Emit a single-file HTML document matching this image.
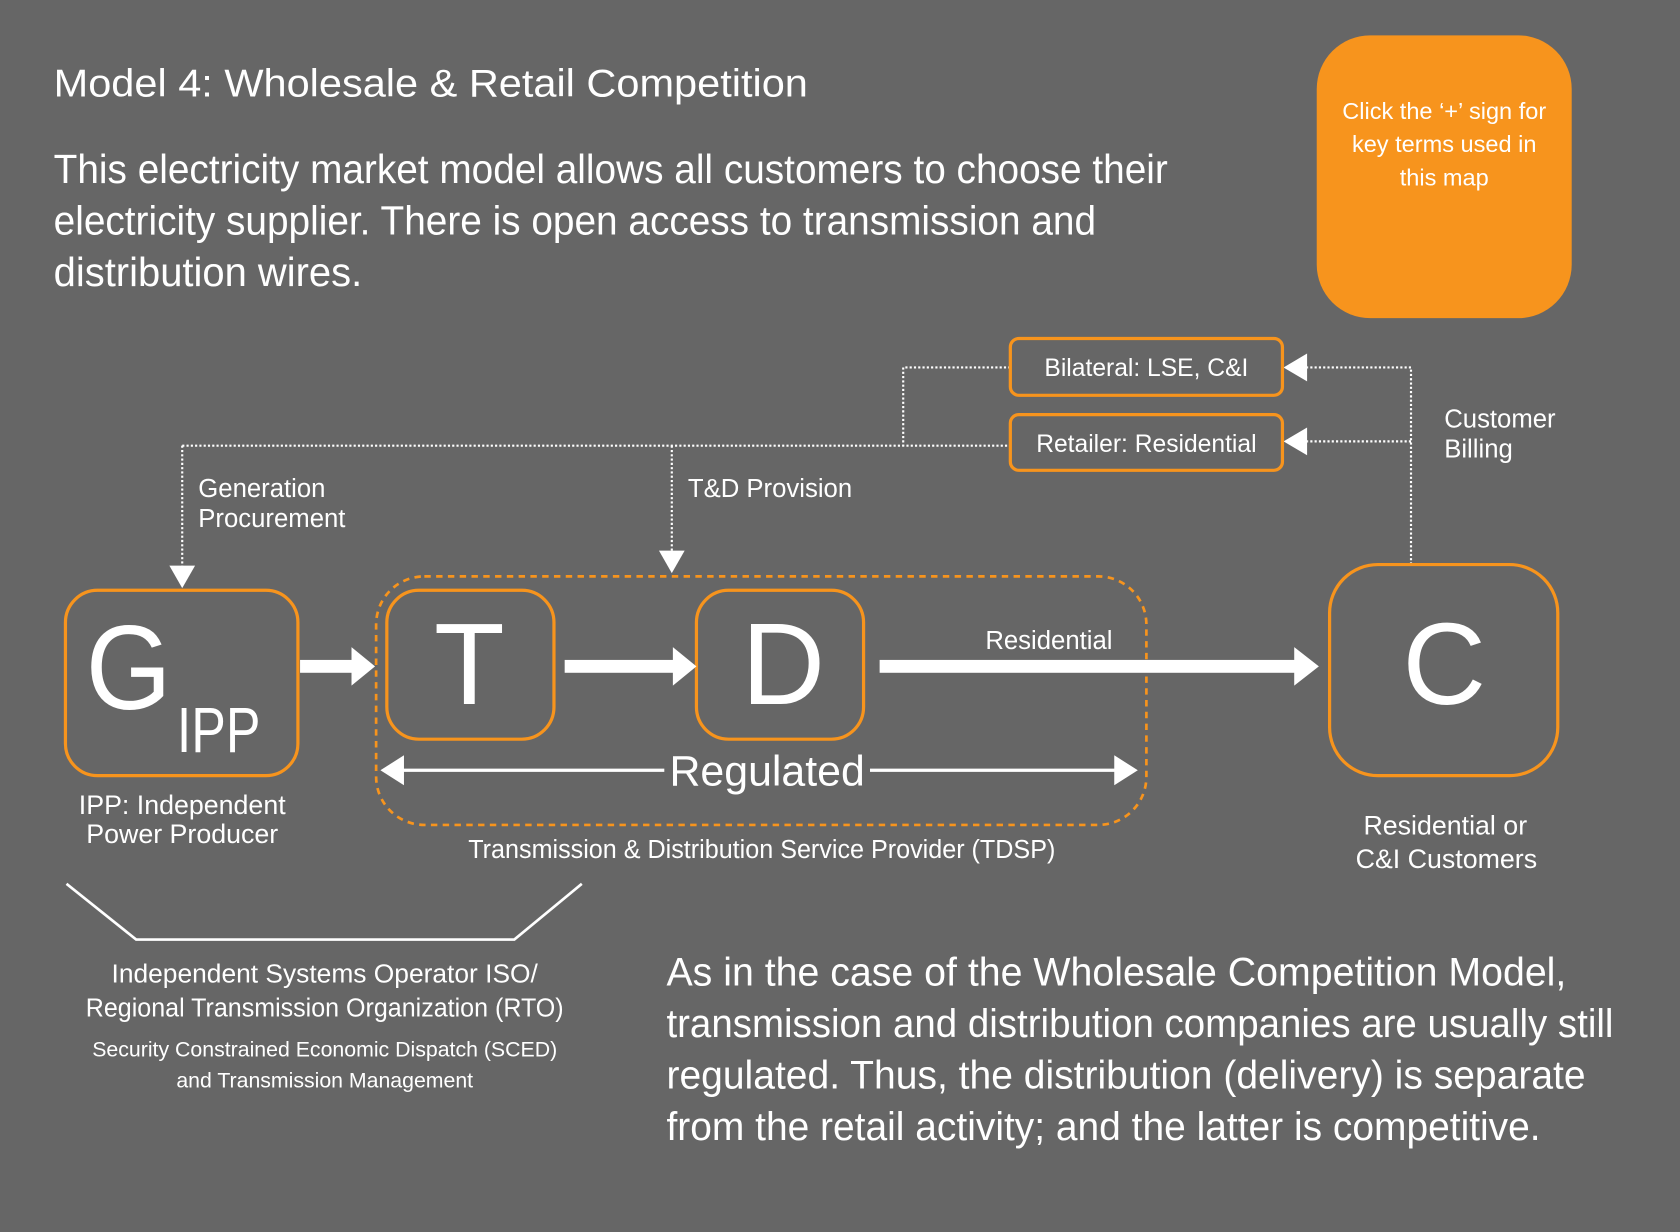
<!DOCTYPE html>
<html><head><meta charset="utf-8">
<style>
html,body{margin:0;padding:0;background:#666666;width:1680px;height:1232px;overflow:hidden}
svg{display:block}
text{font-family:"Liberation Sans",sans-serif;fill:#ffffff}
</style></head>
<body>
<svg width="1680" height="1232" viewBox="0 0 1568 1150" xmlns="http://www.w3.org/2000/svg">
<rect width="1568" height="1150" fill="#666666"/>

<!-- Title & intro -->
<text x="50" y="90" font-size="36" textLength="704" lengthAdjust="spacingAndGlyphs">Model 4: Wholesale &amp; Retail Competition</text>
<g font-size="38" fill="#eee">
<text x="50" y="171" textLength="1040" lengthAdjust="spacingAndGlyphs">This electricity market model allows all customers to choose their</text>
<text x="50" y="219" textLength="973" lengthAdjust="spacingAndGlyphs">electricity supplier.  There is open access to transmission and</text>
<text x="50" y="267" textLength="288" lengthAdjust="spacingAndGlyphs">distribution wires.</text>
</g>

<!-- Orange box -->
<rect x="1229" y="33" width="238" height="264" rx="50" fill="#F7941D"/>
<g font-size="22" text-anchor="middle" fill="#fff">
<text x="1348" y="111">Click the ‘+’ sign for</text>
<text x="1348" y="142">key terms used in</text>
<text x="1348" y="173">this map</text>
</g>

<!-- dotted connectors -->
<g stroke="#fff" stroke-width="2" stroke-dasharray="2,2" fill="none">
<polyline points="943,343 843,343 843,416"/>
<line x1="170" y1="416" x2="943" y2="416"/>
<line x1="170" y1="416" x2="170" y2="530"/>
<line x1="627" y1="416" x2="627" y2="516"/>
<polyline points="1317,527 1317,343 1220,343"/>
<line x1="1317" y1="412" x2="1220" y2="412"/>
</g>
<g fill="#fff">
<path d="M158,528 L182,528 L170,549 z"/>
<path d="M615,514 L639,514 L627,535 z"/>
<path d="M1220,330 L1220,356 L1198,343 z"/>
<path d="M1220,399 L1220,425 L1198,412 z"/>
</g>

<!-- small boxes -->
<rect x="943" y="316" width="254" height="53" rx="8" fill="none" stroke="#F7941D" stroke-width="3"/>
<rect x="943" y="387" width="254" height="52" rx="8" fill="none" stroke="#F7941D" stroke-width="3"/>
<g font-size="23" text-anchor="middle">
<text x="1070" y="351">Bilateral: LSE, C&amp;I</text>
<text x="1070" y="422">Retailer: Residential</text>
</g>

<g font-size="24">
<text x="185" y="464">Generation</text>
<text x="185" y="492">Procurement</text>
<text x="642" y="464">T&amp;D Provision</text>
<text x="1348" y="399">Customer</text>
<text x="1348" y="427">Billing</text>
</g>

<!-- dashed TDSP container -->
<rect x="351" y="538" width="719" height="232" rx="45" fill="none" stroke="#F7941D" stroke-width="2.5" stroke-dasharray="6,5"/>

<!-- node boxes -->
<g fill="none" stroke="#F7941D" stroke-width="3">
<rect x="61" y="551" width="217" height="173" rx="30"/>
<rect x="361" y="551" width="156" height="139" rx="30"/>
<rect x="650" y="551" width="156" height="139" rx="30"/>
<rect x="1241" y="527" width="213" height="197" rx="45"/>
</g>
<text x="80" y="662" font-size="112" textLength="80" lengthAdjust="spacingAndGlyphs">G</text>
<text x="165" y="702" font-size="60" textLength="78" lengthAdjust="spacingAndGlyphs">IPP</text>
<text x="438" y="657" font-size="108" text-anchor="middle">T</text>
<text x="731" y="657" font-size="108" text-anchor="middle">D</text>
<text x="1348" y="657" font-size="108" text-anchor="middle">C</text>

<!-- thick arrows -->
<g fill="#fff">
<rect x="280" y="616" width="50" height="12"/><path d="M328,604 L350,622 L328,640 z"/>
<rect x="527" y="616" width="104" height="12"/><path d="M628,604 L650,622 L628,640 z"/>
<rect x="821" y="616" width="390" height="12"/><path d="M1208,604 L1231,622 L1208,640 z"/>
</g>
<text x="979" y="606" font-size="24" text-anchor="middle">Residential</text>

<!-- Regulated -->
<g stroke="#fff" stroke-width="3">
<line x1="375" y1="719" x2="620" y2="719"/>
<line x1="812" y1="719" x2="1042" y2="719"/>
</g>
<g fill="#fff">
<path d="M377,705 L355,719 L377,733 z"/>
<path d="M1040,705 L1062,719 L1040,733 z"/>
</g>
<text x="716" y="733" font-size="40" text-anchor="middle">Regulated</text>

<g font-size="25" text-anchor="middle">
<text x="170" y="760">IPP: Independent</text>
<text x="170" y="787">Power Producer</text>
<text x="1349" y="779">Residential or</text>
<text x="1350" y="810">C&amp;I Customers</text>
</g>
<text x="711" y="801" font-size="24" text-anchor="middle" textLength="548" lengthAdjust="spacingAndGlyphs">Transmission &amp; Distribution Service Provider (TDSP)</text>

<!-- bracket -->
<polyline points="62,825 127,877 480,877 543,825" fill="none" stroke="#fff" stroke-width="2.5"/>
<g text-anchor="middle">
<text x="303" y="917" font-size="24" textLength="398" lengthAdjust="spacingAndGlyphs">Independent Systems Operator ISO/</text>
<text x="303" y="949" font-size="24" textLength="446" lengthAdjust="spacingAndGlyphs">Regional Transmission Organization (RTO)</text>
<text x="303" y="986" font-size="20" textLength="434" lengthAdjust="spacingAndGlyphs">Security Constrained Economic Dispatch (SCED)</text>
<text x="303" y="1015" font-size="20" textLength="277" lengthAdjust="spacingAndGlyphs">and Transmission Management</text>
</g>

<!-- bottom paragraph -->
<g font-size="37" fill="#eee">
<text x="622" y="920" textLength="840" lengthAdjust="spacingAndGlyphs">As in the case of the Wholesale Competition Model,</text>
<text x="622" y="968" textLength="884" lengthAdjust="spacingAndGlyphs">transmission and distribution companies are usually still</text>
<text x="622" y="1016" textLength="858" lengthAdjust="spacingAndGlyphs">regulated.  Thus, the distribution (delivery) is separate</text>
<text x="622" y="1064" textLength="816" lengthAdjust="spacingAndGlyphs">from the retail activity; and the latter is competitive.</text>
</g>
</svg>
</body></html>
